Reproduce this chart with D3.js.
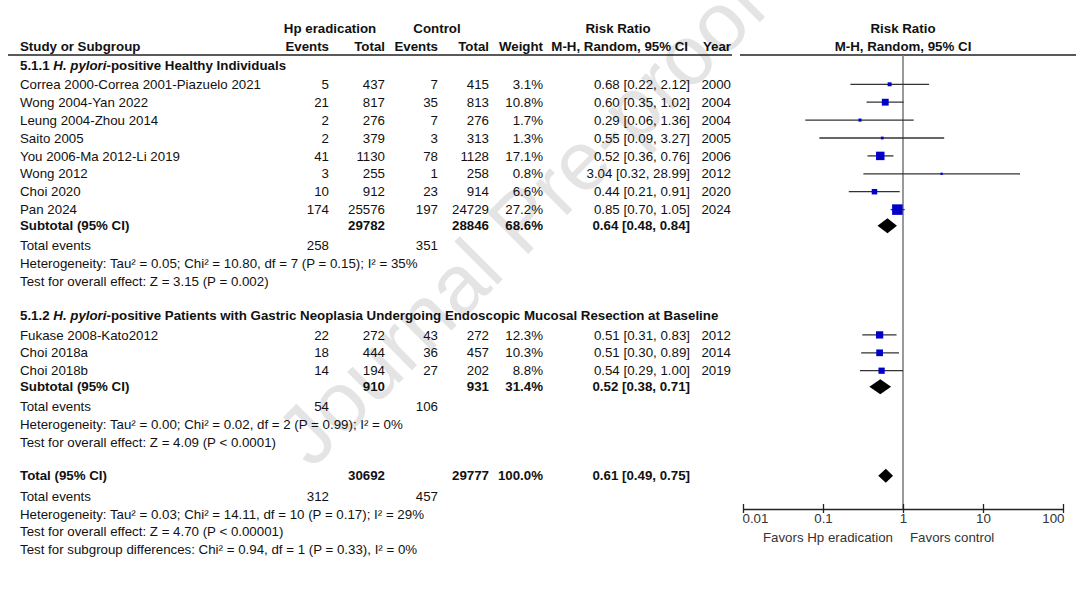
<!DOCTYPE html>
<html>
<head>
<meta charset="utf-8">
<script src="https://cdn.jsdelivr.net/npm/d3@7"></script>
<style>
  body { margin: 0; background: #fff; }
  svg { font-family: "Liberation Sans", Arial, sans-serif; font-size: 13.3px; }
</style>
</head>
<body>
<svg width="1080" height="597"></svg>
<script>
// study level data
var studyNames = ["Correa 2000-Correa 2001-Piazuelo 2021", "Wong 2004-Yan 2022", "Leung 2004-Zhou 2014", "Saito 2005",
  "You 2006-Ma 2012-Li 2019", "Wong 2012", "Choi 2020", "Pan 2024",
  "Fukase 2008-Kato2012", "Choi 2018a", "Choi 2018b"]
var hpEvents = [5, 21, 2, 2, 41, 3, 10, 174, 22, 18, 14]
var hpTotal = [437, 817, 276, 379, 1130, 255, 912, 25576, 272, 444, 194]
var ctrlEvents = [7, 35, 7, 3, 78, 1, 23, 197, 43, 36, 27]
var ctrlTotal = [415, 813, 276, 313, 1128, 258, 914, 24729, 272, 457, 202]
var weights = [3.1, 10.8, 1.7, 1.3, 17.1, 0.8, 6.6, 27.2, 12.3, 10.3, 8.8]
var rr = [0.68, 0.60, 0.29, 0.55, 0.52, 3.04, 0.44, 0.85, 0.51, 0.51, 0.54]
var ciLow = [0.22, 0.35, 0.06, 0.09, 0.36, 0.32, 0.21, 0.70, 0.31, 0.30, 0.29]
var ciHigh = [2.12, 1.02, 1.36, 3.27, 0.76, 28.99, 0.91, 1.05, 0.83, 0.89, 1.00]
var years = [2000, 2004, 2004, 2005, 2006, 2012, 2020, 2024, 2012, 2014, 2019]
var studySlot = [0, 1, 2, 3, 4, 5, 6, 7, 14, 15, 16]

// pooled results (subgroup 1, subgroup 2, overall)
var poolLabels = ["Subtotal (95% CI)", "Subtotal (95% CI)", "Total (95% CI)"]
var poolHpTotal = [29782, 910, 30692]
var poolCtrlTotal = [28846, 931, 29777]
var poolWeight = ["68.6%", "31.4%", "100.0%"]
var poolRR = [0.64, 0.52, 0.61]
var poolLow = [0.48, 0.38, 0.49]
var poolHigh = [0.84, 0.71, 0.75]
var poolSlot = [7.9, 16.9, 21.87]

var totalEventsHp = [258, 54, 312]
var totalEventsCtrl = [351, 106, 457]
var totalEventsSlot = [9, 18, 23]

var noteLines = [
  "Heterogeneity: Tau\u00b2 = 0.05; Chi\u00b2 = 10.80, df = 7 (P = 0.15); I\u00b2 = 35%",
  "Test for overall effect: Z = 3.15 (P = 0.002)",
  "Heterogeneity: Tau\u00b2 = 0.00; Chi\u00b2 = 0.02, df = 2 (P = 0.99); I\u00b2 = 0%",
  "Test for overall effect: Z = 4.09 (P < 0.0001)",
  "Heterogeneity: Tau\u00b2 = 0.03; Chi\u00b2 = 14.11, df = 10 (P = 0.17); I\u00b2 = 29%",
  "Test for overall effect: Z = 4.70 (P < 0.00001)",
  "Test for subgroup differences: Chi\u00b2 = 0.94, df = 1 (P = 0.33), I\u00b2 = 0%"]
var noteSlot = [10, 11, 19, 20, 24, 25, 26]

var sectionTitles = [["5.1.1 ", "H. pylori", "-positive Healthy Individuals"],
  ["5.1.2 ", "H. pylori", "-positive Patients with Gastric Neoplasia Undergoing Endoscopic Mucosal Resection at Baseline"]]
var sectionSlot = [-1.06, 12.9]

var tickValues = [0.01, 0.1, 1, 10, 100]
var tickLabels = ["0.01", "0.1", "1", "10", "100"]

var svg = d3.select("svg")
var y = d3.scaleLinear().domain([0, 1]).range([84.3, 102.2])
var x = d3.scaleLog().domain([0.01, 100]).range([743, 1063])
var fmt2 = d3.format(".2f")
var ink = "#111"

// watermark
svg.append("text")
  .attr("transform", "translate(312,470) rotate(-45)")
  .attr("font-size", 84)
  .attr("fill", "#e4e4e4")
  .text("Journal Pre-proof")

// column positions (right edges)
var colHpEv = 329, colHpTot = 385, colCtEv = 438, colCtTot = 489, colW = 543, colRR = 690, colYear = 731

function txt(xp, yp, s, anchor, weight) {
  return svg.append("text").attr("x", xp).attr("y", yp).attr("dy", "0.35em")
    .attr("text-anchor", anchor || "start").attr("font-weight", weight || "normal")
    .attr("fill", ink).text(s)
}

// headers
txt(330, 28, "Hp eradication", "middle", "bold")
txt(437, 28, "Control", "middle", "bold")
txt(618, 28, "Risk Ratio", "middle", "bold")
txt(903, 28, "Risk Ratio", "middle", "bold")
txt(20, 46, "Study or Subgroup", "start", "bold")
txt(colHpEv, 46, "Events", "end", "bold")
txt(colHpTot, 46, "Total", "end", "bold")
txt(colCtEv, 46, "Events", "end", "bold")
txt(colCtTot, 46, "Total", "end", "bold")
txt(colW, 46, "Weight", "end", "bold")
txt(688, 46, "M-H, Random, 95% CI", "end", "bold")
txt(colYear, 46, "Year", "end", "bold")
txt(903, 46, "M-H, Random, 95% CI", "middle", "bold")

svg.append("line").attr("x1", 8).attr("x2", 732).attr("y1", 55).attr("y2", 55)
  .attr("stroke", "#222").attr("stroke-width", 1.3)
svg.append("line").attr("x1", 740).attr("x2", 1076).attr("y1", 55).attr("y2", 55)
  .attr("stroke", "#222").attr("stroke-width", 1.3)

// section titles
sectionTitles.forEach(function (parts, i) {
  var t = svg.append("text").attr("x", 20).attr("y", y(sectionSlot[i])).attr("dy", "0.35em")
    .attr("font-weight", "bold").attr("fill", ink)
  t.append("tspan").text(parts[0])
  t.append("tspan").attr("font-style", "italic").text(parts[1])
  t.append("tspan").text(parts[2])
})

// study rows
studyNames.forEach(function (name, i) {
  var yy = y(studySlot[i])
  txt(20, yy, name)
  txt(colHpEv, yy, hpEvents[i], "end")
  txt(colHpTot, yy, hpTotal[i], "end")
  txt(colCtEv, yy, ctrlEvents[i], "end")
  txt(colCtTot, yy, ctrlTotal[i], "end")
  txt(colW, yy, weights[i].toFixed(1) + "%", "end")
  txt(colRR, yy, fmt2(rr[i]) + " [" + fmt2(ciLow[i]) + ", " + fmt2(ciHigh[i]) + "]", "end")
  txt(colYear, yy, years[i], "end")
})

// pooled rows
poolLabels.forEach(function (lab, i) {
  var yy = y(poolSlot[i])
  txt(20, yy, lab, "start", "bold")
  txt(colHpTot, yy, poolHpTotal[i], "end", "bold")
  txt(colCtTot, yy, poolCtrlTotal[i], "end", "bold")
  txt(colW, yy, poolWeight[i], "end", "bold")
  txt(colRR, yy, fmt2(poolRR[i]) + " [" + fmt2(poolLow[i]) + ", " + fmt2(poolHigh[i]) + "]", "end", "bold")
})

totalEventsSlot.forEach(function (s, i) {
  var yy = y(s)
  txt(20, yy, "Total events")
  txt(colHpEv, yy, totalEventsHp[i], "end")
  txt(colCtEv, yy, totalEventsCtrl[i], "end")
})

noteLines.forEach(function (s, i) { txt(20, y(noteSlot[i]), s) })

// forest plot
var axisY = 509
svg.append("line").attr("x1", x(1)).attr("x2", x(1)).attr("y1", 55).attr("y2", axisY)
  .attr("stroke", "#777").attr("stroke-width", 1.5)

var plot = svg.append("g")
plot.selectAll("line.ci").data(studyNames).enter().append("line")
  .attr("x1", function (d, i) { return x(ciLow[i]) })
  .attr("x2", function (d, i) { return x(ciHigh[i]) })
  .attr("y1", function (d, i) { return y(studySlot[i]) })
  .attr("y2", function (d, i) { return y(studySlot[i]) })
  .attr("stroke", "#333").attr("stroke-width", 1.3)

plot.selectAll("rect").data(studyNames).enter().append("rect")
  .attr("x", function (d, i) { return x(rr[i]) - 0.95 * Math.sqrt(weights[i]) - 0.3 })
  .attr("y", function (d, i) { return y(studySlot[i]) - 0.95 * Math.sqrt(weights[i]) - 0.3 })
  .attr("width", function (d, i) { return 1.9 * Math.sqrt(weights[i]) + 0.6 })
  .attr("height", function (d, i) { return 1.9 * Math.sqrt(weights[i]) + 0.6 })
  .attr("fill", "#0000c8")

plot.selectAll("path").data(poolLabels).enter().append("path")
  .attr("d", function (d, i) {
    var yy = y(poolSlot[i])
    var h = i === 2 ? 7 : 7.5
    return "M" + x(poolLow[i]) + "," + yy + "L" + x(poolRR[i]) + "," + (yy - h) +
      "L" + x(poolHigh[i]) + "," + yy + "L" + x(poolRR[i]) + "," + (yy + h) + "Z"
  })
  .attr("fill", "#000")

// axis
var axis = svg.append("g").attr("transform", "translate(0," + axisY + ")")
  .call(d3.axisBottom(x).tickValues(tickValues).tickFormat(function (d, i) { return tickLabels[i] })
    .tickSizeInner(-5).tickSizeOuter(0))
axis.select(".domain").attr("stroke", "#222").attr("stroke-width", 1.3)
axis.selectAll(".tick line").attr("stroke", "#222").attr("stroke-width", 1.3).attr("y1", 4)
axis.selectAll(".tick text").attr("font-size", 13.3).attr("font-family", "Liberation Sans, Arial, sans-serif")
  .attr("fill", "#333").attr("y", 5)
  .attr("text-anchor", function (d, i) { return i === 0 ? "start" : (i === tickValues.length - 1 ? "end" : "middle") })
  .attr("dx", function (d, i) { return i === 0 ? "-1" : (i === tickValues.length - 1 ? "1" : "0") })

svg.append("text").attr("x", x(1) - 10).attr("y", 537).attr("dy", "0.35em").attr("text-anchor", "end")
  .attr("fill", "#333").text("Favors Hp eradication")
svg.append("text").attr("x", x(1) + 7).attr("y", 537).attr("dy", "0.35em").attr("text-anchor", "start")
  .attr("fill", "#333").text("Favors control")
</script>
</body>
</html>
